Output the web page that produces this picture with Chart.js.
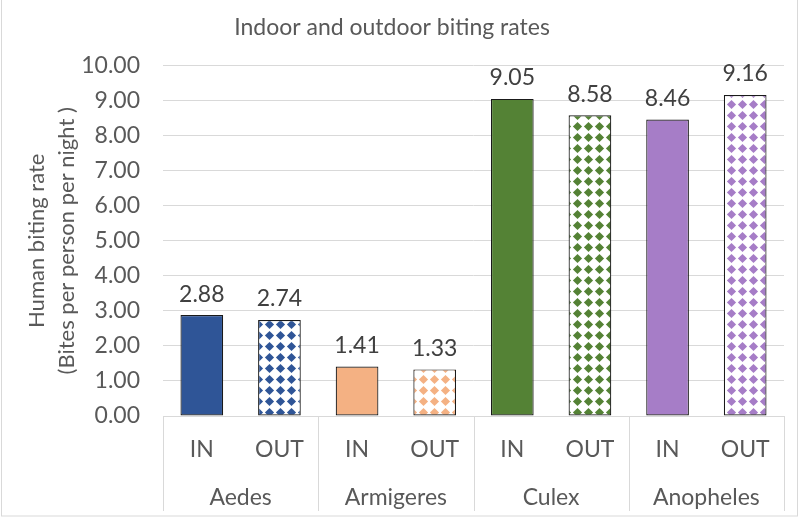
<!DOCTYPE html>
<html>
<head>
<meta charset="utf-8">
<script src="https://cdn.jsdelivr.net/npm/chart.js@4.4.1/dist/chart.umd.min.js"></script>
<style>
  html, body { margin: 0; padding: 0; background: #fff; }
  #wrap { width: 800px; height: 519px; position: relative; }
</style>
</head>
<body>
<div id="wrap"><canvas id="c" width="800" height="519"></canvas></div>
<script>
// ---- data ----
const species = ['Aedes', 'Armigeres', 'Culex', 'Anopheles'];
const locations = ['IN', 'OUT'];
const inValues = [2.88, 1.41, 9.05, 8.46];
const outValues = [2.74, 1.33, 8.58, 9.16];
const yTicks = [0, 1, 2, 3, 4, 5, 6, 7, 8, 9, 10];
const speciesColors = ['#2F5597', '#F4B183', '#548235', '#A67DC7'];

const FONT = 'Lato, "Open Sans", sans-serif';
const TEXT = '#595959';
const GRID = '#d9d9d9';

function diamondPattern(color) {
  const s = 11;
  const cv = document.createElement('canvas');
  cv.width = s; cv.height = s;
  const g = cv.getContext('2d');
  g.fillStyle = '#ffffff';
  g.fillRect(0, 0, s, s);
  g.fillStyle = color;
  const c = s / 2, r = 4.6;
  g.beginPath();
  g.moveTo(c, c - r); g.lineTo(c + r, c); g.lineTo(c, c + r); g.lineTo(c - r, c);
  g.closePath(); g.fill();
  return document.getElementById('c').getContext('2d').createPattern(cv, 'repeat');
}

const labels = [];
const values = [];
const fills = [];
species.forEach((sp, i) => {
  labels.push(locations[0]); values.push(inValues[i]); fills.push(speciesColors[i]);
  labels.push(locations[1]); values.push(outValues[i]); fills.push(diamondPattern(speciesColors[i]));
});

const extras = {
  id: 'extras',
  beforeDraw(chart) {
    const ctx = chart.ctx;
    ctx.save();
    ctx.strokeStyle = GRID;
    ctx.lineWidth = 1;
    ctx.strokeRect(1.5, -2, 796, 518);
    ctx.restore();
  },
  afterDatasetsDraw(chart) {
    const ctx = chart.ctx;
    const meta = chart.getDatasetMeta(0);
    ctx.save();
    ctx.font = '23px ' + FONT;
    ctx.fillStyle = '#404040';
    ctx.textAlign = 'center';
    ctx.textBaseline = 'middle';
    meta.data.forEach((bar, i) => {
      ctx.fillText(values[i].toFixed(2), bar.x, bar.y - 21);
    });
    ctx.restore();
  },
  afterDraw(chart) {
    const ctx = chart.ctx;
    const x = chart.scales.x;
    const area = chart.chartArea;
    ctx.save();
    ctx.strokeStyle = GRID;
    ctx.lineWidth = 1;
    const bounds = [area.left];
    for (let i = 1; i < species.length; i++) {
      bounds.push((x.getPixelForTick(2 * i - 1) + x.getPixelForTick(2 * i)) / 2);
    }
    bounds.push(area.right);
    bounds.forEach(b => {
      const px = Math.round(b) + 0.5;
      ctx.beginPath();
      ctx.moveTo(px, area.bottom);
      ctx.lineTo(px, 511);
      ctx.stroke();
    });
    ctx.restore();
  }
};

new Chart(document.getElementById('c'), {
  type: 'bar',
  data: {
    labels: labels,
    datasets: [{
      data: values,
      backgroundColor: fills,
      borderColor: '#1a1a1a',
      borderWidth: 1.2,
      borderSkipped: false,
      barPercentage: 0.55,
      categoryPercentage: 1.0
    }]
  },
  options: {
    responsive: false,
    animation: false,
    layout: { padding: { left: 0, right: 16, top: 0, bottom: 0 } },
    plugins: {
      legend: { display: false },
      tooltip: { enabled: false },
      title: {
        display: true,
        text: 'Indoor and outdoor biting rates',
        color: TEXT,
        font: { family: FONT, size: 23, weight: 'normal', lineHeight: 1.2 },
        padding: { top: 14, bottom: 24 }
      }
    },
    scales: {
      x: {
        type: 'category',
        position: 'bottom',
        grid: { display: false, drawTicks: false },
        border: { display: true, color: GRID, width: 1 },
        ticks: { color: TEXT, font: { family: FONT, size: 23 }, padding: 20, maxRotation: 0, autoSkip: false },
        afterFit(s) { s.height = 60; }
      },
      x2: {
        type: 'category',
        position: 'bottom',
        labels: species,
        offset: true,
        grid: { display: false, drawTicks: false },
        border: { display: false },
        ticks: { color: TEXT, font: { family: FONT, size: 23 }, padding: 8, maxRotation: 0, autoSkip: false },
        afterFit(s) { s.height = 43; }
      },
      y: {
        min: 0,
        max: 10,
        afterBuildTicks(s) { s.ticks = yTicks.map(v => ({ value: v })); },
        grid: { color: GRID, drawTicks: false },
        border: { display: false },
        ticks: {
          color: TEXT,
          font: { family: FONT, size: 23 },
          padding: 23,
          callback: v => Number(v).toFixed(2)
        },
        title: {
          display: true,
          text: ['Human biting rate', '(Bites per person per night )'],
          color: TEXT,
          font: { family: FONT, size: 22, lineHeight: 1.36 },
          padding: { top: 22, bottom: 0 }
        },
        afterFit(s) { s.width = 163; }
      }
    }
  },
  plugins: [extras]
});
</script>
</body>
</html>
